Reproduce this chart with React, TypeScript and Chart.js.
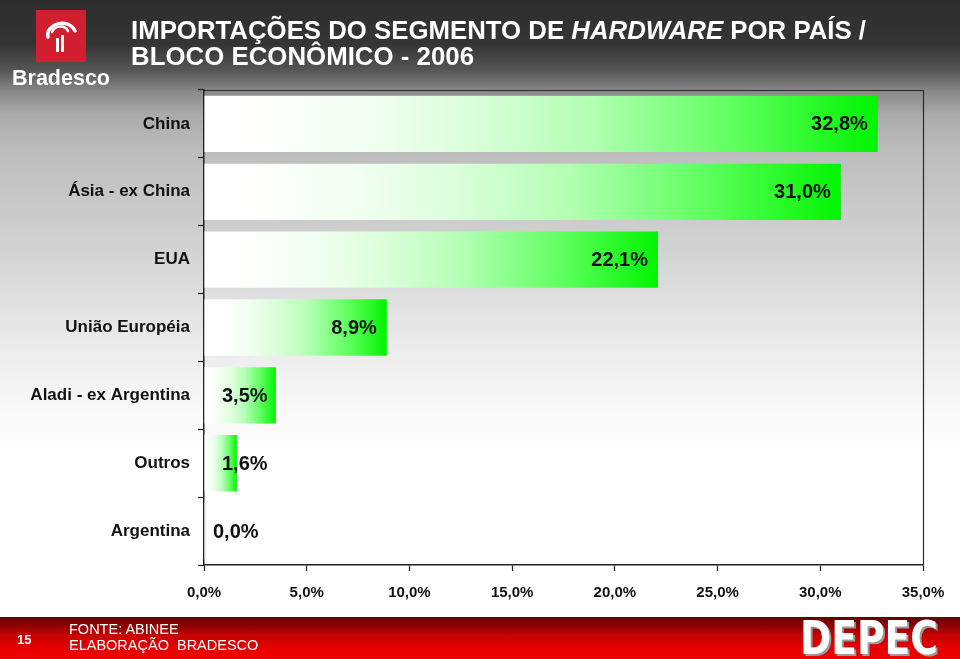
import React, { useEffect, useRef } from "react";
import { Chart, registerables } from "chart.js";

Chart.register(...registerables);

const categories = [
  "China",
  "Ásia - ex China",
  "EUA",
  "União Européia",
  "Aladi - ex Argentina",
  "Outros",
  "Argentina",
];
const shares = [32.8, 31.0, 22.1, 8.9, 3.5, 1.6, 0.0];
const xTicks = [0, 5, 10, 15, 20, 25, 30, 35];

const FONT = "'Liberation Sans', Arial, sans-serif";

const fmt = (v: number) => v.toFixed(1).replace(".", ",") + "%";

const frame = {
  id: "frame",
  afterDatasetsDraw(chart: any) {
    const { ctx, chartArea } = chart;
    ctx.save();
    ctx.strokeStyle = "#2a2a2a";
    ctx.lineWidth = 1.2;
    ctx.beginPath();
    ctx.moveTo(chartArea.left, chartArea.top + 0.5);
    ctx.lineTo(chartArea.right + 0.5, chartArea.top + 0.5);
    ctx.lineTo(chartArea.right + 0.5, chartArea.bottom);
    ctx.stroke();
    ctx.restore();
  },
};

const valueLabels = {
  id: "valueLabels",
  afterDatasetsDraw(chart: any) {
    const { ctx, chartArea } = chart;
    const meta = chart.getDatasetMeta(0);
    const data = chart.data.datasets[0].data as number[];
    ctx.save();
    ctx.font = `bold 20px ${FONT}`;
    ctx.fillStyle = "#111";
    ctx.textBaseline = "middle";
    ctx.textAlign = "left";
    meta.data.forEach((el: any, i: number) => {
      const v = data[i];
      const txt = fmt(v);
      const w = ctx.measureText(txt).width;
      let x = el.x - 10 - w;
      const minX = v > 0 ? chartArea.left + 18 : chartArea.left + 9;
      if (x < minX) x = minX;
      ctx.fillText(txt, x, el.y + 1);
    });
    ctx.restore();
  },
};

export default function App() {
  const ref = useRef<HTMLCanvasElement | null>(null);

  useEffect(() => {
    if (!ref.current) return;
    const chart = new Chart(ref.current, {
      type: "bar",
      data: {
        labels: categories,
        datasets: [
          {
            data: shares,
            barPercentage: 0.83,
            categoryPercentage: 1,
            minBarLength: 2,
            borderWidth: 0,
            backgroundColor: (c: any) => {
              const ch = c.chart;
              const { chartArea, scales } = ch;
              if (!chartArea || !scales.x || c.type !== "data") return "#00f000";
              const x0 = scales.x.getPixelForValue(0);
              const x1 = Math.max(scales.x.getPixelForValue(c.raw), x0 + 3);
              const g = ch.ctx.createLinearGradient(x0, 0, x1, 0);
              g.addColorStop(0, "#ffffff");
              g.addColorStop(0.1, "#fdfffd");
              g.addColorStop(0.25, "rgb(240,255,240)");
              g.addColorStop(0.4, "rgb(218,255,218)");
              g.addColorStop(0.57, "rgb(180,255,180)");
              g.addColorStop(0.8, "rgb(90,255,90)");
              g.addColorStop(1, "rgb(0,245,0)");
              return g;
            },
          },
        ],
      },
      options: {
        indexAxis: "y",
        responsive: false,
        animation: false,
        layout: { padding: { top: 90, right: 37, left: 0, bottom: 0 } },
        plugins: {
          legend: { display: false },
          tooltip: { enabled: false },
          title: { display: false },
        },
        scales: {
          x: {
            min: 0,
            max: 35,
            afterBuildTicks: (s: any) => {
              s.ticks = xTicks.map((v) => ({ value: v }));
            },
            afterFit: (s: any) => {
              s.height = 94;
            },
            ticks: {
              callback: (v: any) => fmt(Number(v)),
              color: "#111",
              font: { family: FONT, size: 15, weight: "bold" },
              padding: 13,
              maxRotation: 0,
              autoSkip: false,
            },
            grid: {
              drawOnChartArea: false,
              tickLength: 6,
              tickColor: "#222",
              tickWidth: 1.2,
            },
            border: { color: "#222", width: 1.5 },
          },
          y: {
            afterFit: (s: any) => {
              s.width = 204;
            },
            ticks: {
              color: "#111",
              font: { family: FONT, size: 17, weight: "bold" },
              padding: 8,
              autoSkip: false,
            },
            grid: {
              drawOnChartArea: false,
              tickLength: 6,
              tickColor: "#222",
              tickWidth: 1.2,
              offset: true,
            },
            border: { color: "#222", width: 1.5 },
          },
        },
      },
      plugins: [frame, valueLabels],
    } as any);
    return () => chart.destroy();
  }, []);

  return (
    <div
      style={{
        position: "fixed",
        left: 0,
        top: 0,
        width: 960,
        height: 659,
        overflow: "hidden",
        background:
          "linear-gradient(to bottom, #2d2d2d 0px, #353535 45px, #555555 70px, #8a8a8a 92px, #aaaaaa 115px, #bdbdbd 150px, #d3d3d3 250px, #ececec 350px, #fbfbfb 420px, #ffffff 460px, #ffffff 659px)",
      }}
    >
      <canvas
        ref={ref}
        width={960}
        height={659}
        style={{ position: "absolute", left: 0, top: 0, width: 960, height: 659 }}
      />
      <svg
        width={960}
        height={659}
        style={{ position: "absolute", left: 0, top: 0, pointerEvents: "none" }}
      >
        <defs>
          <linearGradient id="foot" x1="0" y1="0" x2="0" y2="1">
            <stop offset="0" stopColor="#5e0404" />
            <stop offset="0.45" stopColor="#c80202" />
            <stop offset="0.75" stopColor="#e80000" />
            <stop offset="1" stopColor="#f00000" />
          </linearGradient>
        </defs>
        {/* Bradesco logo */}
        <rect x={36} y={10} width={50} height={52} fill="#d21f2f" />
        <path
          d="M48 37 C45 24, 68 17, 75 31"
          stroke="#fff"
          strokeWidth={3.5}
          fill="none"
          strokeLinecap="round"
        />
        <path
          d="M52 32 C55 25, 65 25, 68 31"
          stroke="#fff"
          strokeWidth={2.5}
          fill="none"
          strokeLinecap="round"
        />
        <rect x={56} y={38} width={3} height={14} fill="#fff" />
        <rect x={61} y={35} width={3} height={17} fill="#fff" />
        <text
          x={12}
          y={85}
          fill="#fff"
          fontFamily={FONT}
          fontWeight="bold"
          fontSize={21.5}
        >
          Bradesco
        </text>
        {/* Title */}
        <text
          x={131}
          y={39}
          fill="#fff"
          fontFamily={FONT}
          fontWeight="bold"
          fontSize={26}
          textLength={735}
          lengthAdjust="spacingAndGlyphs"
        >
          IMPORTAÇÕES DO SEGMENTO DE <tspan fontStyle="italic">HARDWARE</tspan> POR PAÍS /
        </text>
        <text
          x={131}
          y={65}
          fill="#fff"
          fontFamily={FONT}
          fontWeight="bold"
          fontSize={26}
          textLength={343}
          lengthAdjust="spacingAndGlyphs"
        >
          BLOCO ECONÔMICO - 2006
        </text>
        {/* Footer */}
        <rect x={0} y={617} width={960} height={42} fill="url(#foot)" />
        <text x={17} y={644} fill="#fff" fontFamily={FONT} fontWeight="bold" fontSize={13}>
          15
        </text>
        <text x={69} y={634} fill="#fff" fontFamily={FONT} fontSize={14.5}>
          FONTE: ABINEE
        </text>
        <text x={69} y={650} fill="#fff" fontFamily={FONT} fontSize={14.5} xmlSpace="preserve">
          ELABORAÇÃO  BRADESCO
        </text>
        <text
          x={802}
          y={656}
          fill="#9a9a9a"
          fontFamily="'DejaVu Sans', sans-serif"
          fontWeight="bold"
          fontSize={47}
          textLength={138}
          lengthAdjust="spacingAndGlyphs"
        >
          DEPEC
        </text>
        <text
          x={800}
          y={654}
          fill="#ffffff"
          fontFamily="'DejaVu Sans', sans-serif"
          fontWeight="bold"
          fontSize={47}
          textLength={138}
          lengthAdjust="spacingAndGlyphs"
        >
          DEPEC
        </text>
      </svg>
    </div>
  );
}
